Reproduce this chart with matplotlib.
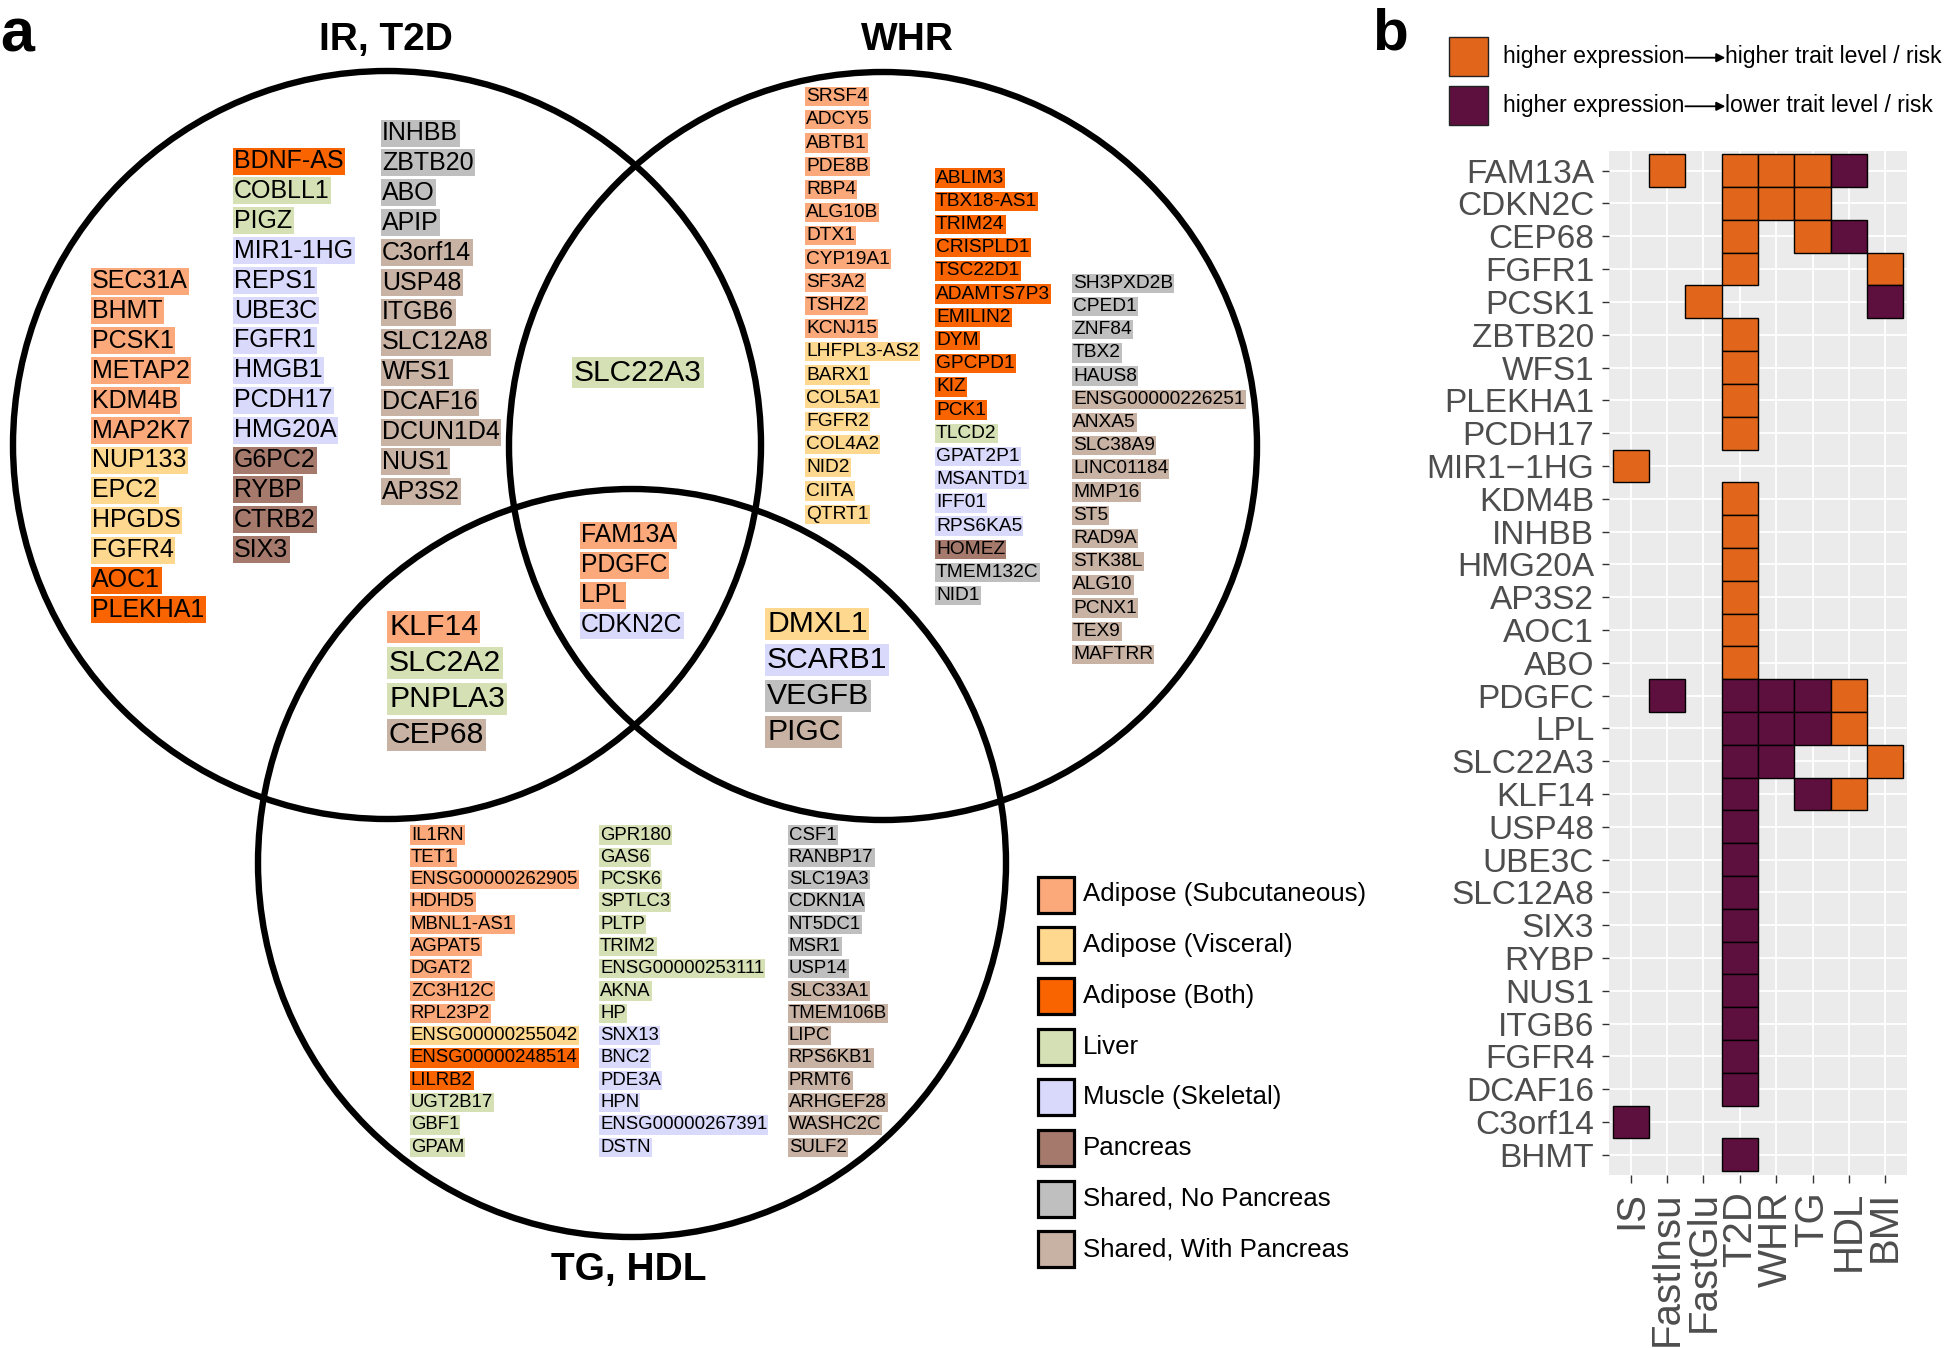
import matplotlib
matplotlib.use('Agg')
import matplotlib.pyplot as plt
import matplotlib.patches as patches

plt.rcParams['font.family'] = ['Liberation Sans', 'DejaVu Sans']

# ---- panel a: tissue legend ----
tissue_codes = ['S', 'V', 'B', 'L', 'M', 'P', 'N', 'W']
tissue_labels = ['Adipose (Subcutaneous)', 'Adipose (Visceral)', 'Adipose (Both)', 'Liver',
                 'Muscle (Skeletal)', 'Pancreas', 'Shared, No Pancreas', 'Shared, With Pancreas']
tissue_colors = ['#FBA97A', '#FED88F', '#FA6400', '#D5E0B5',
                 '#D9D9FB', '#A57A6D', '#BFBFBF', '#C8B2A4']

circle_titles = ['IR, T2D', 'WHR', 'TG, HDL']

# IR, T2D only
ir_col1_genes = ['SEC31A', 'BHMT', 'PCSK1', 'METAP2', 'KDM4B', 'MAP2K7', 'NUP133', 'EPC2',
                 'HPGDS', 'FGFR4', 'AOC1', 'PLEKHA1']
ir_col1_tissue = ['S', 'S', 'S', 'S', 'S', 'S', 'V', 'V', 'V', 'V', 'B', 'B']
ir_col2_genes = ['BDNF-AS', 'COBLL1', 'PIGZ', 'MIR1-1HG', 'REPS1', 'UBE3C', 'FGFR1', 'HMGB1',
                 'PCDH17', 'HMG20A', 'G6PC2', 'RYBP', 'CTRB2', 'SIX3']
ir_col2_tissue = ['B', 'L', 'L', 'M', 'M', 'M', 'M', 'M', 'M', 'M', 'P', 'P', 'P', 'P']
ir_col3_genes = ['INHBB', 'ZBTB20', 'ABO', 'APIP', 'C3orf14', 'USP48', 'ITGB6', 'SLC12A8',
                 'WFS1', 'DCAF16', 'DCUN1D4', 'NUS1', 'AP3S2']
ir_col3_tissue = ['N', 'N', 'N', 'N', 'W', 'W', 'W', 'W', 'W', 'W', 'W', 'W', 'W']

# WHR only
whr_col1_genes = ['SRSF4', 'ADCY5', 'ABTB1', 'PDE8B', 'RBP4', 'ALG10B', 'DTX1', 'CYP19A1',
                  'SF3A2', 'TSHZ2', 'KCNJ15', 'LHFPL3-AS2', 'BARX1', 'COL5A1', 'FGFR2',
                  'COL4A2', 'NID2', 'CIITA', 'QTRT1']
whr_col1_tissue = ['S'] * 11 + ['V'] * 8
whr_col2_genes = ['ABLIM3', 'TBX18-AS1', 'TRIM24', 'CRISPLD1', 'TSC22D1', 'ADAMTS7P3', 'EMILIN2',
                  'DYM', 'GPCPD1', 'KIZ', 'PCK1', 'TLCD2', 'GPAT2P1', 'MSANTD1', 'IFF01',
                  'RPS6KA5', 'HOMEZ', 'TMEM132C', 'NID1']
whr_col2_tissue = ['B'] * 11 + ['L', 'M', 'M', 'M', 'M', 'P', 'N', 'N']
whr_col3_genes = ['SH3PXD2B', 'CPED1', 'ZNF84', 'TBX2', 'HAUS8', 'ENSG00000226251', 'ANXA5',
                  'SLC38A9', 'LINC01184', 'MMP16', 'ST5', 'RAD9A', 'STK38L', 'ALG10', 'PCNX1',
                  'TEX9', 'MAFTRR']
whr_col3_tissue = ['N'] * 5 + ['W'] * 12

# TG, HDL only
lip_col1_genes = ['IL1RN', 'TET1', 'ENSG00000262905', 'HDHD5', 'MBNL1-AS1', 'AGPAT5', 'DGAT2',
                  'ZC3H12C', 'RPL23P2', 'ENSG00000255042', 'ENSG00000248514', 'LILRB2',
                  'UGT2B17', 'GBF1', 'GPAM']
lip_col1_tissue = ['S'] * 9 + ['V', 'B', 'B', 'L', 'L', 'L']
lip_col2_genes = ['GPR180', 'GAS6', 'PCSK6', 'SPTLC3', 'PLTP', 'TRIM2', 'ENSG00000253111', 'AKNA',
                  'HP', 'SNX13', 'BNC2', 'PDE3A', 'HPN', 'ENSG00000267391', 'DSTN']
lip_col2_tissue = ['L'] * 9 + ['M'] * 6
lip_col3_genes = ['CSF1', 'RANBP17', 'SLC19A3', 'CDKN1A', 'NT5DC1', 'MSR1', 'USP14', 'SLC33A1',
                  'TMEM106B', 'LIPC', 'RPS6KB1', 'PRMT6', 'ARHGEF28', 'WASHC2C', 'SULF2']
lip_col3_tissue = ['N'] * 7 + ['W'] * 8

# overlaps
ir_whr_genes = ['SLC22A3']
ir_whr_tissue = ['L']
all3_genes = ['FAM13A', 'PDGFC', 'LPL', 'CDKN2C']
all3_tissue = ['S', 'S', 'S', 'M']
ir_lip_genes = ['KLF14', 'SLC2A2', 'PNPLA3', 'CEP68']
ir_lip_tissue = ['S', 'L', 'L', 'W']
whr_lip_genes = ['DMXL1', 'SCARB1', 'VEGFB', 'PIGC']
whr_lip_tissue = ['V', 'M', 'N', 'W']

# ---- panel b: direction of effect ----
b_genes = ['FAM13A', 'CDKN2C', 'CEP68', 'FGFR1', 'PCSK1', 'ZBTB20', 'WFS1', 'PLEKHA1', 'PCDH17',
           'MIR1\u22121HG', 'KDM4B', 'INHBB', 'HMG20A', 'AP3S2', 'AOC1', 'ABO', 'PDGFC', 'LPL',
           'SLC22A3', 'KLF14', 'USP48', 'UBE3C', 'SLC12A8', 'SIX3', 'RYBP', 'NUS1', 'ITGB6',
           'FGFR4', 'DCAF16', 'C3orf14', 'BHMT']
b_traits = ['IS', 'FastInsu', 'FastGlu', 'T2D', 'WHR', 'TG', 'HDL', 'BMI']
# 1 = higher expression -> higher trait, -1 = higher expression -> lower trait, 0 = none
b_effects = [
    [0, 1, 0, 1, 1, 1, -1, 0],
    [0, 0, 0, 1, 1, 1, 0, 0],
    [0, 0, 0, 1, 0, 1, -1, 0],
    [0, 0, 0, 1, 0, 0, 0, 1],
    [0, 0, 1, 0, 0, 0, 0, -1],
    [0, 0, 0, 1, 0, 0, 0, 0],
    [0, 0, 0, 1, 0, 0, 0, 0],
    [0, 0, 0, 1, 0, 0, 0, 0],
    [0, 0, 0, 1, 0, 0, 0, 0],
    [1, 0, 0, 0, 0, 0, 0, 0],
    [0, 0, 0, 1, 0, 0, 0, 0],
    [0, 0, 0, 1, 0, 0, 0, 0],
    [0, 0, 0, 1, 0, 0, 0, 0],
    [0, 0, 0, 1, 0, 0, 0, 0],
    [0, 0, 0, 1, 0, 0, 0, 0],
    [0, 0, 0, 1, 0, 0, 0, 0],
    [0, -1, 0, -1, -1, -1, 1, 0],
    [0, 0, 0, -1, -1, -1, 1, 0],
    [0, 0, 0, -1, -1, 0, 0, 1],
    [0, 0, 0, -1, 0, -1, 1, 0],
    [0, 0, 0, -1, 0, 0, 0, 0],
    [0, 0, 0, -1, 0, 0, 0, 0],
    [0, 0, 0, -1, 0, 0, 0, 0],
    [0, 0, 0, -1, 0, 0, 0, 0],
    [0, 0, 0, -1, 0, 0, 0, 0],
    [0, 0, 0, -1, 0, 0, 0, 0],
    [0, 0, 0, -1, 0, 0, 0, 0],
    [0, 0, 0, -1, 0, 0, 0, 0],
    [0, 0, 0, -1, 0, 0, 0, 0],
    [-1, 0, 0, 0, 0, 0, 0, 0],
    [0, 0, 0, -1, 0, 0, 0, 0],
]
effect_labels = ['higher expression', 'higher trait level / risk', 'lower trait level / risk']
pos_color = '#E1651A'
neg_color = '#5D103D'

# ---------------------------------------------------------------------------
W, H = 1952, 1348
fig = plt.figure(figsize=(W / 100, H / 100), dpi=100)
ax = fig.add_axes([0, 0, 1, 1])
ax.set_xlim(0, W)
ax.set_ylim(H, 0)
ax.axis('off')

color_of = dict(zip(tissue_codes, tissue_colors))

# circles
for cx, cy in [(387, 445), (883, 446), (632, 863)]:
    ax.add_patch(patches.Circle((cx, cy), 374, fc='none', ec='black', lw=4.6))

for title, (tx, ty) in zip(circle_titles, [(386, 40), (907, 40), (629, 1270)]):
    ax.text(tx, ty, title, fontsize=28, fontweight='bold', ha='center', va='center')

ax.text(0, 52, 'a', fontsize=44, fontweight='bold', ha='left', va='baseline')
ax.text(1372, 50, 'b', fontsize=42, fontweight='bold', ha='left', va='baseline')

# gene label columns: (genes, tissues, x_left, first_center_y, step, fontsize)
groups = [
    (ir_col1_genes, ir_col1_tissue, 92, 281, 29.9, 18),
    (ir_col2_genes, ir_col2_tissue, 234, 161, 29.9, 18),
    (ir_col3_genes, ir_col3_tissue, 382, 133, 29.9, 18),
    (whr_col1_genes, whr_col1_tissue, 806, 96.6, 23.2, 13.8),
    (whr_col2_genes, whr_col2_tissue, 936, 178.1, 23.2, 13.8),
    (whr_col3_genes, whr_col3_tissue, 1073, 283.3, 23.2, 13.8),
    (lip_col1_genes, lip_col1_tissue, 411, 835, 22.3, 13.4),
    (lip_col2_genes, lip_col2_tissue, 600, 835, 22.3, 13.4),
    (lip_col3_genes, lip_col3_tissue, 789, 835, 22.3, 13.4),
    (ir_whr_genes, ir_whr_tissue, 574, 372.7, 0, 21.5),
    (all3_genes, all3_tissue, 581, 535.2, 30, 17.8),
    (ir_lip_genes, ir_lip_tissue, 389, 626.7, 36.1, 21.7),
    (whr_lip_genes, whr_lip_tissue, 767, 624, 36.1, 21.7),
]
for genes, tissues, x0, y0, dy, fs in groups:
    for k, (g, t) in enumerate(zip(genes, tissues)):
        ax.text(x0, y0 + k * dy, g, fontsize=fs, ha='left', va='center', color='black',
                bbox=dict(boxstyle='square,pad=0.06', fc=color_of[t], ec='none'))

# tissue legend
for k, (lab, col) in enumerate(zip(tissue_labels, tissue_colors)):
    yc = 894.5 + k * 50.7
    ax.add_patch(patches.Rectangle((1038, yc - 18), 36, 36, fc=col, ec='black', lw=2.3))
    ax.text(1083, yc, lab, fontsize=18.6, ha='left', va='center')

# effect legend (panel b)
renderer = fig.canvas.get_renderer()
for k, (col, lab) in enumerate([(pos_color, effect_labels[1]), (neg_color, effect_labels[2])]):
    yc = 56.7 + k * 48.6
    ax.add_patch(patches.Rectangle((1449, yc - 19.5), 39, 39, fc=col, ec='#222222', lw=1.0))
    t1 = ax.text(1503, yc, effect_labels[0], fontsize=16.6, ha='left', va='center')
    bb = t1.get_window_extent(renderer)
    x_end = ax.transData.inverted().transform((bb.x1, 0))[0]
    ax.annotate('', xy=(x_end + 41, yc + 1), xytext=(x_end + 1, yc + 1),
                arrowprops=dict(arrowstyle='-|>', lw=1.3, color='black',
                                mutation_scale=13, shrinkA=0, shrinkB=0))
    ax.text(x_end + 41, yc, lab, fontsize=16.6, ha='left', va='center')

# heatmap panel
axb = fig.add_axes([1609 / W, 1 - 1174.5 / H, (1907 - 1609) / W, (1174.5 - 151) / H])
axb.set_facecolor('#EBEBEB')
n = len(b_genes)
axb.set_xlim(0.4, len(b_traits) + 0.6)
axb.set_ylim(0.4, n + 0.6)
for s in axb.spines.values():
    s.set_visible(False)
axb.set_axisbelow(True)
axb.grid(color='white', lw=1.3)
for i, row in enumerate(b_effects):
    yv = n - i
    for j, e in enumerate(row):
        if e == 0:
            continue
        axb.add_patch(patches.Rectangle((j + 0.5, yv - 0.5), 1, 1,
                                        fc=pos_color if e > 0 else neg_color,
                                        ec='black', lw=1.0, zorder=2))
axb.set_yticks(range(n, 0, -1))
axb.set_yticklabels(b_genes, fontsize=24, color='#4D4D4D')
axb.set_xticks(range(1, len(b_traits) + 1))
axb.set_xticklabels(b_traits, fontsize=29, color='#4D4D4D', rotation=90)
axb.tick_params(axis='both', length=5.4, width=1.0, color='#333333')
axb.tick_params(axis='y', pad=5.3)
axb.tick_params(axis='x', pad=6.5)

fig.savefig('out.png', dpi=100)
